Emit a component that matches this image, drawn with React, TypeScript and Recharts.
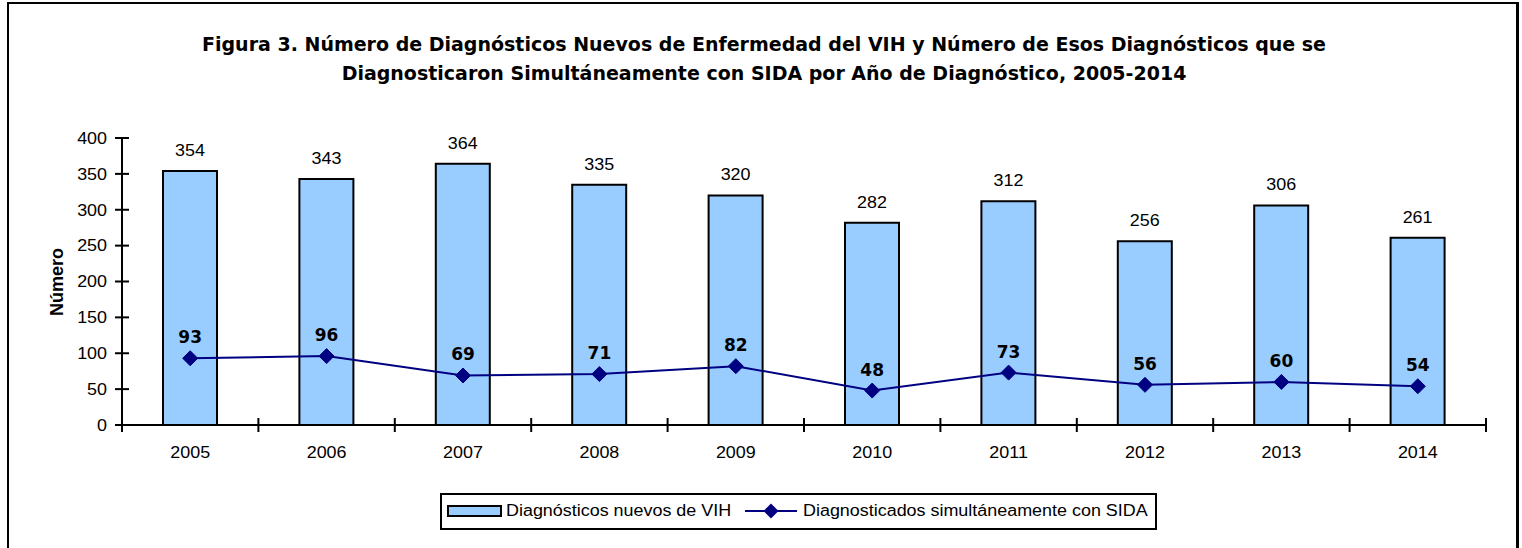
import React from 'react';
import { ComposedChart, Bar, Line, XAxis, YAxis, LabelList } from 'recharts';

const years = ['2005', '2006', '2007', '2008', '2009', '2010', '2011', '2012', '2013', '2014'];
const newDiagnoses = [354, 343, 364, 335, 320, 282, 312, 256, 306, 261];
const simultaneousAids = [93, 96, 69, 71, 82, 48, 73, 56, 60, 54];
const yTicks = [0, 50, 100, 150, 200, 250, 300, 350, 400];
const titleLines = [
  'Figura 3. Número de Diagnósticos Nuevos de Enfermedad del VIH y Número de Esos Diagnósticos que se',
  'Diagnosticaron Simultáneamente con SIDA por Año de Diagnóstico, 2005-2014',
];
const seriesNames = ['Diagnósticos nuevos de VIH', 'Diagnosticados simultáneamente con SIDA'];
const yAxisTitle = 'Número';

const data = years.map((year, i) => ({ year, vih: newDiagnoses[i], sida: simultaneousAids[i] }));

const W = 1522;
const H = 548;
const PLOT_LEFT = 122;
const PLOT_RIGHT = 1486;
const PLOT_TOP = 138;
const PLOT_BOTTOM = 425;
const Y_AXIS_W = 60;
const X_AXIS_H = 40;
const BAND = (PLOT_RIGHT - PLOT_LEFT) / years.length;
const SX = 1.12;
const SANS = '"Liberation Sans", Arial, sans-serif';
const BOLD = '"DejaVu Sans", Verdana, sans-serif';
const BAR_FILL = '#99CCFF';
const LINE_COLOR = '#000080';

const YTick = (props: any) => {
  const { y, payload } = props;
  return (
    <g>
      <line x1={PLOT_LEFT - 7} x2={PLOT_LEFT + 7} y1={y} y2={y} stroke="#000" strokeWidth={2} />
      <text
        transform={`translate(107 ${y}) scale(${SX} 1)`}
        textAnchor="end"
        dy="0.36em"
        fontFamily={SANS}
        fontSize={16}
        fill="#000"
      >
        {payload.value}
      </text>
    </g>
  );
};

const XTick = (props: any) => {
  const { x, payload, index } = props;
  const left = x - BAND / 2;
  return (
    <g>
      <line x1={left} x2={left} y1={PLOT_BOTTOM - 7} y2={PLOT_BOTTOM + 7} stroke="#000" strokeWidth={2} />
      {index === years.length - 1 && (
        <line x1={x + BAND / 2} x2={x + BAND / 2} y1={PLOT_BOTTOM - 7} y2={PLOT_BOTTOM + 7} stroke="#000" strokeWidth={2} />
      )}
      <text
        transform={`translate(${x} 452) scale(${SX} 1)`}
        textAnchor="middle"
        dy="0.36em"
        fontFamily={SANS}
        fontSize={16}
        fill="#000"
      >
        {payload.value}
      </text>
    </g>
  );
};

const BarLabel = (props: any) => {
  const { x, y, width, value } = props;
  const cx = Number(x) + Number(width) / 2;
  return (
    <text
      transform={`translate(${cx} ${Number(y) - 15}) scale(${SX} 1)`}
      textAnchor="middle"
      fontFamily={SANS}
      fontSize={16}
      fill="#000"
    >
      {value}
    </text>
  );
};

const LineLabel = (props: any) => {
  const { x, y, value } = props;
  return (
    <text
      x={Number(x)}
      y={Number(y) - 15}
      textAnchor="middle"
      fontFamily={BOLD}
      fontWeight="bold"
      fontSize={17}
      fill="#000"
    >
      {value}
    </text>
  );
};

const Diamond = (props: any) => {
  const { cx, cy, index } = props;
  const r = 7.5;
  return (
    <path
      key={`dot-${index}`}
      d={`M${cx},${cy - r} L${cx + r},${cy} L${cx},${cy + r} L${cx - r},${cy} Z`}
      fill={LINE_COLOR}
      stroke={LINE_COLOR}
    />
  );
};

export default function App() {
  return (
    <div style={{ position: 'absolute', left: 0, top: 0, width: W, height: H, overflow: 'hidden', background: '#fff' }}>
      <div
        style={{
          position: 'absolute',
          left: 7,
          top: 2,
          width: 1512,
          height: 600,
          boxSizing: 'border-box',
          borderLeft: '2px solid #000',
          borderTop: '2px solid #000',
          borderRight: '3px solid #000',
        }}
      />
      {titleLines.map((t, i) => (
        <div
          key={i}
          style={{
            position: 'absolute',
            left: 0,
            width: 1528,
            top: i === 0 ? 32 : 61,
            textAlign: 'center',
            fontFamily: BOLD,
            fontWeight: 'bold',
            fontSize: 19,
            lineHeight: '24px',
            whiteSpace: 'nowrap',
            color: '#000',
          }}
        >
          {t}
        </div>
      ))}
      <div
        style={{
          position: 'absolute',
          left: 57,
          top: 282,
          transform: 'translate(-50%, -50%) rotate(-90deg)',
          fontFamily: SANS,
          fontWeight: 'bold',
          fontSize: 18,
          lineHeight: '20px',
          whiteSpace: 'nowrap',
          color: '#000',
        }}
      >
        {yAxisTitle}
      </div>
      <div style={{ position: 'absolute', left: 0, top: 0 }}>
        <ComposedChart
          width={W}
          height={H}
          data={data}
          margin={{ top: PLOT_TOP, right: W - PLOT_RIGHT, bottom: H - PLOT_BOTTOM - X_AXIS_H, left: PLOT_LEFT - Y_AXIS_W }}
          barCategoryGap={0}
        >
          <XAxis
            dataKey="year"
            height={X_AXIS_H}
            axisLine={{ stroke: '#000', strokeWidth: 2 }}
            tickLine={false}
            tick={<XTick />}
            interval={0}
          />
          <YAxis
            width={Y_AXIS_W}
            domain={[0, 400]}
            ticks={yTicks}
            axisLine={{ stroke: '#000', strokeWidth: 2 }}
            tickLine={false}
            tick={<YTick />}
            interval={0}
          />
          <Bar dataKey="vih" fill={BAR_FILL} stroke="#000" strokeWidth={2} barSize={54} isAnimationActive={false}>
            <LabelList dataKey="vih" content={<BarLabel />} />
          </Bar>
          <Line
            dataKey="sida"
            stroke={LINE_COLOR}
            strokeWidth={2}
            dot={<Diamond />}
            activeDot={false}
            isAnimationActive={false}
          >
            <LabelList dataKey="sida" content={<LineLabel />} />
          </Line>
        </ComposedChart>
      </div>
      <div
        style={{
          position: 'absolute',
          left: 440,
          top: 493,
          width: 717,
          height: 37,
          boxSizing: 'border-box',
          border: '2px solid #000',
        }}
      />
      <div
        style={{
          position: 'absolute',
          left: 447,
          top: 505,
          width: 55,
          height: 12,
          boxSizing: 'border-box',
          border: '2px solid #000',
          background: BAR_FILL,
        }}
      />
      <div
        style={{
          position: 'absolute',
          left: 506,
          top: 501,
          fontFamily: SANS,
          fontSize: 16,
          lineHeight: '20px',
          whiteSpace: 'nowrap',
          transform: `scaleX(${SX})`,
          transformOrigin: 'left center',
          color: '#000',
        }}
      >
        {seriesNames[0]}
      </div>
      <svg style={{ position: 'absolute', left: 744, top: 503 }} width={54} height={16}>
        <line x1={1} x2={53} y1={8} y2={8} stroke={LINE_COLOR} strokeWidth={2} />
        <path d="M27,0.5 L34.5,8 L27,15.5 L19.5,8 Z" fill={LINE_COLOR} />
      </svg>
      <div
        style={{
          position: 'absolute',
          left: 803,
          top: 501,
          fontFamily: SANS,
          fontSize: 16,
          lineHeight: '20px',
          whiteSpace: 'nowrap',
          transform: `scaleX(${SX})`,
          transformOrigin: 'left center',
          color: '#000',
        }}
      >
        {seriesNames[1]}
      </div>
    </div>
  );
}
